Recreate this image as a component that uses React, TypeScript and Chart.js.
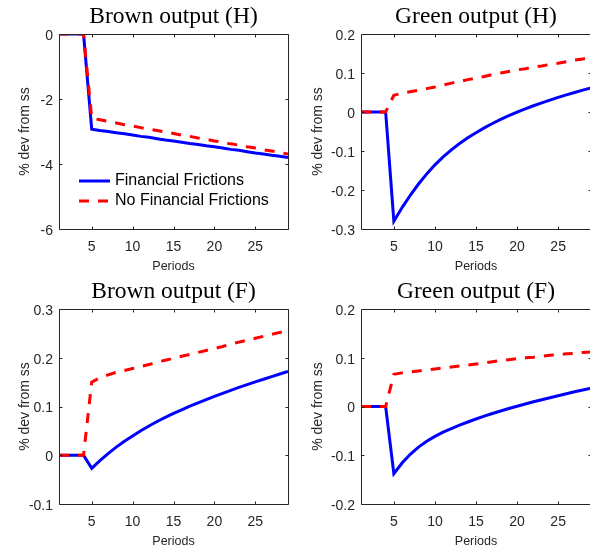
import React, { useEffect, useRef } from "react";
import { Chart, registerables } from "chart.js";

Chart.register(...registerables);

const periods = [1, 2, 3, 4, 5, 6, 7, 8, 9, 10, 11, 12, 13, 14, 15, 16, 17, 18, 19, 20, 21, 22, 23, 24, 25, 26, 27, 28, 29];
const xTicks = [5, 10, 15, 20, 25];

const brownH_FF = [0, 0, 0, 0, -2.93, -2.97, -3.0, -3.04, -3.07, -3.11, -3.15, -3.18, -3.22, -3.26, -3.29, -3.33, -3.37, -3.4, -3.44, -3.47, -3.51, -3.55, -3.58, -3.62, -3.66, -3.69, -3.73, -3.76, -3.8];
const brownH_NoFF = [0, 0, 0, 0, -2.59, -2.64, -2.69, -2.74, -2.79, -2.83, -2.88, -2.93, -2.97, -3.02, -3.06, -3.11, -3.15, -3.2, -3.24, -3.29, -3.33, -3.38, -3.42, -3.47, -3.51, -3.56, -3.6, -3.65, -3.69];
const greenH_FF = [0, 0, 0, 0, -0.28, -0.245, -0.2135, -0.1847, -0.1587, -0.1354, -0.1149, -0.0969, -0.0807, -0.0662, -0.053, -0.0408, -0.0295, -0.019, -0.0093, -0.0003, 0.0081, 0.016, 0.0235, 0.0306, 0.0374, 0.0439, 0.0501, 0.056, 0.0617];
const greenH_NoFF = [0, 0, 0, 0, 0.043, 0.048, 0.052, 0.056, 0.06, 0.064, 0.069, 0.074, 0.078, 0.083, 0.087, 0.091, 0.096, 0.1, 0.104, 0.108, 0.111, 0.115, 0.118, 0.122, 0.125, 0.129, 0.133, 0.136, 0.14];
const brownF_FF = [0, 0, 0, 0, -0.027, -0.011, 0.0035, 0.0167, 0.0287, 0.0397, 0.0503, 0.0601, 0.0692, 0.0777, 0.0857, 0.0933, 0.1006, 0.1076, 0.1143, 0.1208, 0.1271, 0.1332, 0.1391, 0.1449, 0.1505, 0.156, 0.1614, 0.1667, 0.1719];
const brownF_NoFF = [0, 0, 0, 0, 0.15, 0.159, 0.165, 0.17, 0.174, 0.178, 0.182, 0.186, 0.191, 0.195, 0.199, 0.203, 0.207, 0.211, 0.215, 0.219, 0.223, 0.228, 0.232, 0.236, 0.24, 0.244, 0.248, 0.252, 0.255];
const greenF_FF = [0, 0, 0, 0, -0.138, -0.116, -0.098, -0.0832, -0.0711, -0.0612, -0.0527, -0.0452, -0.0383, -0.0318, -0.0257, -0.0199, -0.0144, -0.0092, -0.0042, 0.0006, 0.0052, 0.0096, 0.0139, 0.0181, 0.0222, 0.0262, 0.0301, 0.0339, 0.0376];
const greenF_NoFF = [0, 0, 0, 0, 0.066, 0.069, 0.071, 0.073, 0.075, 0.077, 0.079, 0.081, 0.083, 0.085, 0.087, 0.089, 0.092, 0.094, 0.096, 0.098, 0.1, 0.101, 0.103, 0.105, 0.106, 0.108, 0.109, 0.111, 0.112];

const ticksBrownH = [-6, -4, -2, 0];
const ticksGreenH = [-0.3, -0.2, -0.1, 0, 0.1, 0.2];
const ticksBrownF = [-0.1, 0, 0.1, 0.2, 0.3];
const ticksGreenF = [-0.2, -0.1, 0, 0.1, 0.2];

const seriesLabels = ["Financial Frictions", "No Financial Frictions"];

const AXIS_COLOR = "#262626";
const SANS = "'Liberation Sans', Arial, sans-serif";
const SERIF = "'Liberation Serif', 'Times New Roman', serif";

const framePlugin = {
  id: "frame",
  afterDatasetsDraw(chart: any) {
    const { ctx, chartArea: a, scales } = chart;
    const l = Math.round(a.left) + 0.5;
    const r = Math.round(a.right) + 0.5;
    const t = Math.round(a.top) + 0.5;
    const b = Math.round(a.bottom) + 0.5;
    const tl = 3;
    ctx.save();
    ctx.strokeStyle = AXIS_COLOR;
    ctx.lineWidth = 1;
    ctx.beginPath();
    ctx.rect(l, t, r - l, b - t);
    scales.x.ticks.forEach((tk: any) => {
      const px = Math.round(scales.x.getPixelForValue(tk.value)) + 0.5;
      ctx.moveTo(px, b);
      ctx.lineTo(px, b - tl);
      ctx.moveTo(px, t);
      ctx.lineTo(px, t + tl);
    });
    scales.y.ticks.forEach((tk: any) => {
      const py = Math.round(scales.y.getPixelForValue(tk.value)) + 0.5;
      ctx.moveTo(l, py);
      ctx.lineTo(l + tl, py);
      ctx.moveTo(r, py);
      ctx.lineTo(r - tl, py);
    });
    ctx.stroke();
    ctx.restore();
  },
};

const insideLegendPlugin = {
  id: "insideLegend",
  afterDraw(chart: any, _args: any, opts: any) {
    if (!opts || !opts.show) return;
    const { ctx, chartArea: a } = chart;
    const x0 = a.left + 20;
    const x1 = a.left + 51;
    const rows = [a.top + 147, a.top + 167];
    ctx.save();
    chart.data.datasets.forEach((ds: any, i: number) => {
      const y = rows[i];
      ctx.beginPath();
      ctx.strokeStyle = ds.borderColor;
      ctx.lineWidth = ds.borderWidth;
      ctx.setLineDash(ds.borderDash || []);
      ctx.moveTo(x0, y);
      ctx.lineTo(x1, y);
      ctx.stroke();
      ctx.setLineDash([]);
      ctx.fillStyle = "#000";
      ctx.font = `16px ${SANS}`;
      ctx.textBaseline = "middle";
      ctx.textAlign = "left";
      ctx.fillText(ds.label, x1 + 5, y);
    });
    ctx.restore();
  },
};

type PanelProps = {
  title: string;
  ff: number[];
  noff: number[];
  yMin: number;
  yMax: number;
  yTicks: number[];
  legend: boolean;
  left: number;
  top: number;
  width: number;
  axisWidth: number;
  padRight: number;
  yTitlePad: number;
};

const CANVAS_H = 275;

function Panel(p: PanelProps) {
  const ref = useRef<HTMLCanvasElement>(null);
  useEffect(() => {
    const tickFont = { family: SANS, size: 14 };
    const chart = new Chart(ref.current as HTMLCanvasElement, {
      type: "line",
      data: {
        datasets: [
          {
            label: seriesLabels[0],
            data: periods.map((x, i) => ({ x, y: p.ff[i] })),
            borderColor: "#0000ff",
            borderWidth: 3,
            pointRadius: 0,
            tension: 0,
            order: 1,
          },
          {
            label: seriesLabels[1],
            data: periods.map((x, i) => ({ x, y: p.noff[i] })),
            borderColor: "#ff0000",
            borderWidth: 3,
            borderDash: [10, 9],
            pointRadius: 0,
            tension: 0,
            order: 0,
          },
        ],
      },
      options: {
        responsive: false,
        animation: false,
        devicePixelRatio: 1,
        layout: { padding: { left: 0, right: p.padRight, top: 0, bottom: 0 } },
        plugins: {
          legend: { display: false },
          tooltip: { enabled: false },
          title: {
            display: true,
            text: p.title,
            fullSize: false,
            color: "#000",
            font: { family: SERIF, size: 23.5, weight: "normal" },
            padding: { top: 3, bottom: 2.8 },
          },
          insideLegend: { show: p.legend },
        } as any,
        scales: {
          x: {
            type: "linear",
            min: 1,
            max: 29,
            afterBuildTicks: (s: any) => {
              s.ticks = xTicks.map((v) => ({ value: v }));
            },
            afterFit: (s: any) => {
              s.height = CANVAS_H - 229;
            },
            grid: { display: false, drawTicks: false },
            border: { display: false },
            ticks: {
              padding: 10,
              font: tickFont,
              color: AXIS_COLOR,
              maxRotation: 0,
              autoSkip: false,
              callback: (v: any) => String(v),
            },
            title: {
              display: true,
              text: "Periods",
              color: AXIS_COLOR,
              font: { family: SANS, size: 12.5 },
              padding: { top: 0, bottom: 1 },
            },
          },
          y: {
            type: "linear",
            min: p.yMin,
            max: p.yMax,
            afterBuildTicks: (s: any) => {
              s.ticks = p.yTicks.map((v) => ({ value: v }));
            },
            afterFit: (s: any) => {
              s.width = p.axisWidth;
            },
            grid: { display: false, drawTicks: false },
            border: { display: false },
            ticks: {
              padding: 6,
              labelOffset: 2,
              font: tickFont,
              color: AXIS_COLOR,
              autoSkip: false,
              callback: (v: any) => String(v),
            },
            title: {
              display: true,
              text: "% dev from ss",
              color: AXIS_COLOR,
              font: { family: SANS, size: 14 },
              padding: { top: p.yTitlePad, bottom: 0 },
            },
          },
        },
      } as any,
      plugins: [framePlugin, insideLegendPlugin],
    });
    return () => chart.destroy();
  }, []);
  return (
    <canvas
      ref={ref}
      width={p.width}
      height={CANVAS_H}
      style={{ position: "absolute", left: p.left, top: p.top, width: p.width, height: CANVAS_H }}
    />
  );
}

export default function App() {
  return (
    <div
      style={{
        position: "fixed",
        left: 0,
        top: 0,
        width: 590,
        height: 547,
        overflow: "hidden",
        background: "#fff",
      }}
    >
      <Panel title="Brown output (H)" ff={brownH_FF} noff={brownH_NoFF} yMin={-6} yMax={0} yTicks={ticksBrownH}
        legend={true} left={0} top={0} width={295} axisWidth={59} padRight={7} yTitlePad={16.6} />
      <Panel title="Green output (H)" ff={greenH_FF} noff={greenH_NoFF} yMin={-0.3} yMax={0.2} yTicks={ticksGreenH}
        legend={false} left={295} top={0} width={300} axisWidth={66} padRight={4} yTitlePad={14.6} />
      <Panel title="Brown output (F)" ff={brownF_FF} noff={brownF_NoFF} yMin={-0.1} yMax={0.3} yTicks={ticksBrownF}
        legend={false} left={0} top={275} width={295} axisWidth={59} padRight={7} yTitlePad={16.6} />
      <Panel title="Green output (F)" ff={greenF_FF} noff={greenF_NoFF} yMin={-0.2} yMax={0.2} yTicks={ticksGreenF}
        legend={false} left={295} top={275} width={300} axisWidth={66} padRight={4} yTitlePad={14.6} />
    </div>
  );
}
